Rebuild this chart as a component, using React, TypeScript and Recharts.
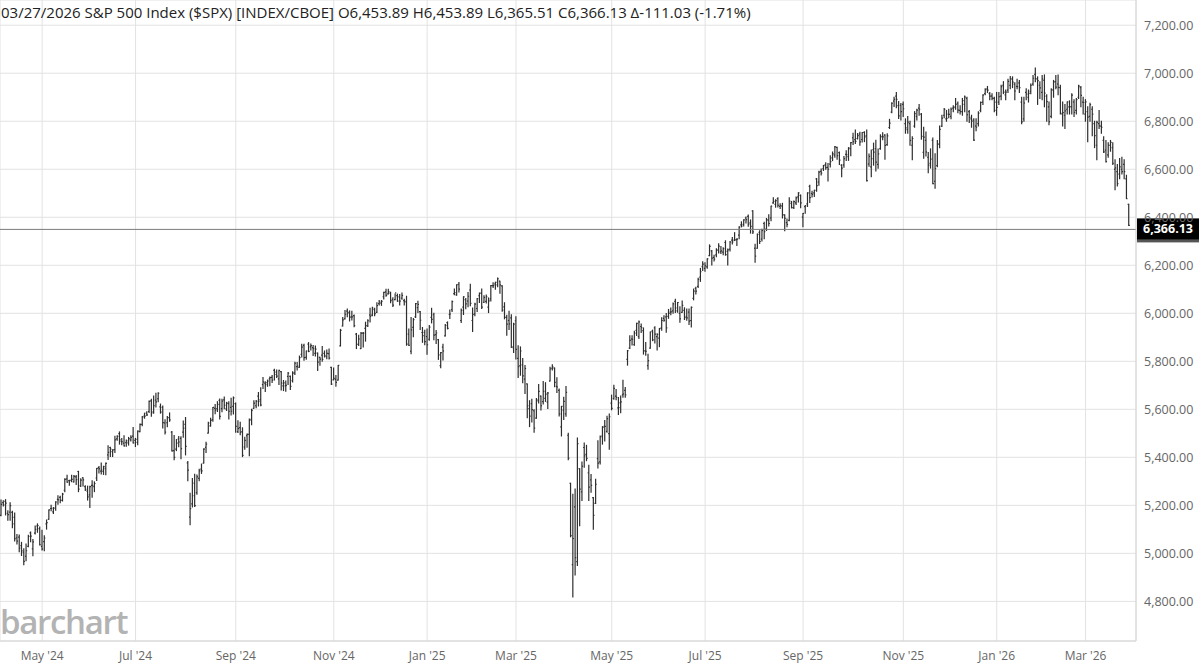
import React from 'react';
import { ComposedChart, Bar, XAxis, YAxis, CartesianGrid, ReferenceLine } from 'recharts';

type B = [number, number, number, number]; // open, high, low, close

const apr24: B[] = [[5158,5222,5157,5204],[5211,5219,5197,5202],[5217,5224,5160,5209],[5167,5178,5138,5161],[5172,5211,5138,5199],[5171,5175,5107,5123],[5150,5168,5052,5061],[5065,5079,5039,5051],[5068,5077,5007,5022],[5032,5046,4991,5011],[5005,5019,4953,4967],[4988,5039,4969,5011],[5029,5076,5028,5071],[5085,5089,5048,5072],[5019,5058,4990,5048],[5084,5114,5081,5100],[5114,5123,5088,5116],[5103,5110,5035,5036]];
const may24: B[] = [[5029,5096,5014,5018],[5049,5073,5011,5064],[5123,5139,5101,5128],[5142,5181,5142,5181],[5187,5200,5178,5187],[5173,5191,5166,5188],[5189,5215,5180,5214],[5225,5240,5205,5223],[5233,5238,5211,5221],[5221,5250,5218,5247],[5263,5311,5257,5308],[5310,5325,5296,5297],[5303,5305,5284,5303],[5305,5325,5298,5308],[5298,5324,5297,5321],[5319,5324,5287,5307],[5341,5342,5257,5268],[5281,5311,5279,5305],[5315,5315,5281,5306],[5278,5282,5262,5267],[5259,5280,5222,5235],[5244,5280,5191,5278]];
const jun24: B[] = [[5283,5302,5234,5283],[5278,5298,5257,5291],[5314,5354,5304,5354],[5357,5362,5335,5352],[5343,5376,5331,5347],[5341,5363,5329,5361],[5353,5376,5328,5375],[5410,5448,5391,5421],[5441,5442,5403,5434],[5424,5432,5403,5431],[5432,5488,5420,5473],[5477,5490,5471,5487],[5499,5506,5455,5473],[5466,5478,5452,5465],[5459,5490,5447,5448],[5461,5472,5446,5469],[5460,5483,5451,5478],[5473,5490,5468,5483],[5488,5524,5460,5460]];
const jul24: B[] = [[5471,5479,5445,5475],[5462,5510,5452,5509],[5507,5539,5507,5537],[5537,5570,5532,5567],[5572,5584,5563,5572],[5584,5590,5574,5577],[5591,5635,5587,5633],[5635,5642,5571,5585],[5590,5655,5584,5615],[5638,5667,5610,5631],[5644,5669,5632,5667],[5610,5622,5584,5588],[5608,5614,5522,5545],[5543,5557,5497,5505],[5544,5570,5527,5564],[5566,5585,5550,5556],[5505,5508,5426,5427],[5428,5491,5390,5400],[5434,5474,5428,5459],[5476,5487,5444,5464],[5479,5486,5394,5436],[5505,5551,5484,5522]];
const aug24: B[] = [[5537,5566,5410,5446],[5377,5383,5302,5347],[5151,5250,5119,5186],[5206,5312,5193,5240],[5293,5330,5195,5199],[5253,5326,5246,5319],[5312,5350,5302,5344],[5351,5372,5333,5344],[5376,5436,5376,5434],[5442,5463,5420,5455],[5501,5546,5501,5543],[5531,5563,5530,5554],[5557,5608,5550,5608],[5604,5620,5582,5597],[5603,5632,5591,5621],[5637,5643,5560,5571],[5603,5642,5590,5634],[5639,5651,5602,5617],[5602,5629,5595,5626],[5624,5632,5560,5592],[5608,5646,5576,5592],[5612,5651,5581,5648]];
const sep24: B[] = [[5624,5626,5504,5529],[5507,5552,5503,5520],[5524,5546,5494,5504],[5507,5523,5403,5408],[5443,5484,5434,5471],[5490,5497,5442,5496],[5496,5560,5407,5554],[5558,5600,5536,5596],[5604,5636,5604,5626],[5615,5637,5607,5633],[5655,5670,5614,5634],[5641,5690,5615,5618],[5703,5733,5687,5714],[5709,5715,5674,5703],[5711,5722,5696,5718],[5727,5735,5698,5732],[5733,5741,5712,5722],[5762,5767,5722,5745],[5755,5764,5733,5738],[5727,5763,5703,5762]];
const oct24: B[] = [[5757,5758,5681,5709],[5698,5720,5678,5710],[5698,5718,5675,5700],[5737,5753,5703,5751],[5737,5739,5683,5696],[5719,5757,5714,5751],[5752,5796,5745,5792],[5778,5795,5764,5780],[5775,5822,5775,5815],[5829,5871,5818,5859],[5866,5871,5804,5815],[5816,5843,5809,5843],[5872,5878,5840,5841],[5860,5872,5847,5865],[5857,5866,5824,5853],[5833,5864,5822,5851],[5834,5835,5762,5797],[5816,5817,5784,5809],[5826,5862,5800,5808],[5833,5843,5818,5823],[5819,5847,5811,5833],[5832,5851,5810,5813],[5775,5775,5703,5705]];
const nov24: B[] = [[5723,5772,5723,5729],[5725,5741,5696,5712],[5722,5783,5722,5783],[5864,5933,5864,5929],[5947,5983,5947,5973],[5977,6012,5976,5996],[6009,6018,5986,6001],[6004,6010,5968,5984],[5985,6009,5972,5985],[5990,5993,5944,5949],[5913,5916,5853,5871],[5871,5909,5866,5893],[5853,5920,5853,5917],[5917,5920,5860,5917],[5937,5963,5884,5949],[5948,5973,5945,5969],[5993,6021,5964,5987],[5992,6025,5990,6022],[6015,6021,5990,5999],[6004,6044,6003,6032]];
const dec24: B[] = [[6040,6053,6035,6047],[6042,6053,6033,6050],[6069,6088,6060,6087],[6089,6100,6071,6075],[6081,6100,6080,6090],[6084,6088,6044,6053],[6058,6065,6028,6034],[6057,6080,6056,6085],[6074,6080,6050,6051],[6068,6078,6035,6051],[6063,6085,6059,6074],[6053,6058,6035,6050],[6047,6071,5867,5872],[5913,5935,5866,5867],[5842,5982,5832,5931],[5941,5978,5902,5974],[5985,6041,5983,6040],[6024,6050,6003,6037],[6007,6007,5932,5971],[5920,5941,5879,5907],[5920,5929,5869,5882]];
const jan25: B[] = [[5903,5935,5829,5869],[5892,5949,5888,5942],[5983,6021,5960,5975],[5994,6000,5890,5909],[5911,5928,5874,5918],[5890,5891,5808,5827],[5782,5837,5773,5836],[5859,5871,5805,5843],[5906,5953,5905,5950],[5961,5964,5935,5937],[5995,6014,5978,5997],[6015,6051,6007,6049],[6082,6101,6077,6086],[6077,6119,6075,6119],[6121,6128,6089,6101],[5970,6018,5962,6012],[6026,6069,5995,6068],[6057,6062,6019,6039],[6051,6087,6027,6071],[6097,6121,6031,6041]];
const feb25: B[] = [[5970,6022,5924,5995],[5998,6042,5990,6038],[6020,6062,6007,6061],[6073,6084,6045,6084],[6083,6101,6020,6026],[6046,6073,6045,6066],[6050,6076,6043,6069],[6026,6064,6003,6052],[6060,6116,6051,6115],[6115,6127,6107,6115],[6122,6129,6100,6129],[6118,6147,6111,6144],[6134,6134,6084,6118],[6114,6115,6009,6013],[6027,6044,5977,5983],[5983,5992,5909,5955],[5970,6009,5932,5956],[5981,5994,5858,5861],[5857,5959,5837,5955]];
const mar25: B[] = [[5969,5986,5810,5850],[5812,5865,5733,5778],[5782,5860,5742,5843],[5785,5812,5711,5739],[5726,5783,5666,5770],[5706,5706,5565,5615],[5603,5636,5528,5572],[5624,5642,5547,5599],[5594,5598,5505,5522],[5563,5645,5563,5639],[5635,5703,5626,5675],[5655,5655,5597,5615],[5632,5716,5622,5675],[5646,5711,5633,5663],[5630,5670,5603,5668],[5718,5775,5718,5768],[5771,5786,5764,5777],[5772,5772,5694,5712],[5696,5732,5670,5693],[5679,5685,5572,5581],[5527,5612,5489,5612]];
const apr25: B[] = [[5597,5650,5558,5633],[5581,5695,5571,5671],[5492,5500,5390,5397],[5292,5292,5069,5074],[4953,5246,4818,5062],[5194,5268,4910,4982],[4966,5481,4950,5457],[5353,5353,5115,5268],[5256,5381,5220,5363],[5441,5460,5359,5406],[5412,5450,5386,5396],[5335,5367,5220,5276],[5306,5329,5255,5283],[5232,5233,5101,5158],[5208,5309,5208,5288],[5395,5469,5356,5376],[5381,5489,5372,5485],[5489,5528,5455,5525],[5529,5553,5468,5529],[5508,5571,5505,5561],[5499,5581,5434,5569]];
const may25: B[] = [[5626,5659,5598,5604],[5645,5700,5642,5687],[5655,5683,5640,5650],[5606,5649,5578,5607],[5627,5655,5586,5631],[5660,5721,5650,5664],[5679,5691,5650,5660],[5808,5845,5784,5844],[5855,5906,5853,5887],[5893,5906,5868,5892],[5869,5925,5867,5917],[5929,5959,5907,5958],[5903,5968,5895,5964],[5945,5955,5920,5940],[5928,5939,5830,5845],[5841,5878,5825,5842],[5782,5829,5767,5803],[5855,5922,5854,5922],[5926,5930,5886,5889],[5939,5944,5876,5913],[5903,5915,5847,5912]];
const jun25: B[] = [[5897,5937,5861,5936],[5939,5981,5929,5970],[5979,5990,5967,5971],[5985,5999,5921,5939],[5987,6016,5979,6000],[6005,6022,5994,6006],[6010,6043,6000,6039],[6050,6059,6003,6022],[6010,6045,6004,6045],[6000,6027,5963,5977],[6004,6051,6004,6033],[6012,6023,5974,5982],[5987,6018,5971,5981],[6005,6018,5953,5967],[5970,6026,5943,6025],[6062,6101,6056,6092],[6104,6109,6080,6092],[6112,6146,6107,6141],[6151,6187,6133,6173],[6194,6215,6178,6205]];
const jul25: B[] = [[6187,6211,6175,6198],[6193,6227,6188,6227],[6240,6285,6240,6279],[6260,6262,6201,6230],[6233,6242,6218,6226],[6243,6269,6236,6263],[6263,6290,6251,6280],[6256,6278,6249,6260],[6255,6273,6244,6269],[6295,6302,6242,6244],[6258,6268,6201,6264],[6267,6299,6260,6297],[6305,6316,6289,6297],[6305,6336,6303,6306],[6307,6310,6282,6309],[6326,6360,6311,6359],[6368,6381,6360,6363],[6370,6390,6364,6389],[6397,6401,6376,6390],[6404,6409,6363,6371],[6377,6389,6334,6362],[6427,6427,6332,6339]];
const aug25: B[] = [[6271,6288,6213,6238],[6271,6330,6271,6329],[6337,6344,6291,6299],[6309,6350,6301,6345],[6374,6379,6310,6340],[6351,6395,6345,6389],[6388,6410,6364,6374],[6397,6446,6385,6446],[6460,6481,6458,6466],[6454,6473,6442,6469],[6478,6481,6443,6450],[6445,6456,6437,6449],[6446,6458,6397,6411],[6409,6411,6344,6396],[6378,6393,6360,6370],[6387,6481,6385,6467],[6458,6466,6439,6440],[6440,6468,6437,6465],[6460,6484,6453,6481],[6485,6502,6464,6502],[6491,6493,6440,6460]];
const sep25: B[] = [[6401,6416,6360,6416],[6444,6449,6417,6448],[6456,6502,6445,6502],[6529,6533,6461,6482],[6499,6508,6484,6495],[6502,6513,6487,6512],[6560,6562,6508,6532],[6546,6592,6533,6588],[6591,6601,6576,6584],[6602,6616,6595,6615],[6619,6627,6600,6607],[6608,6624,6551,6600],[6621,6656,6609,6632],[6647,6672,6636,6664],[6659,6695,6650,6693],[6691,6692,6642,6657],[6669,6672,6620,6638],[6617,6619,6569,6605],[6618,6653,6608,6644],[6662,6677,6636,6661],[6652,6690,6637,6688]];
const oct25: B[] = [[6685,6711,6656,6711],[6731,6750,6703,6715],[6723,6764,6707,6716],[6728,6749,6726,6740],[6746,6754,6700,6714],[6724,6753,6713,6753],[6754,6756,6715,6735],[6740,6764,6551,6553],[6622,6664,6612,6654],[6610,6680,6569,6644],[6682,6709,6617,6671],[6686,6721,6593,6630],[6620,6684,6604,6664],[6686,6744,6683,6735],[6737,6752,6723,6735],[6742,6744,6642,6699],[6703,6748,6700,6739],[6774,6808,6770,6792],[6838,6877,6835,6875],[6884,6900,6861,6891],[6905,6920,6856,6891],[6865,6882,6811,6822],[6866,6874,6805,6840]];
const nov25: B[] = [[6870,6880,6820,6852],[6790,6810,6750,6772],[6765,6820,6750,6796],[6790,6800,6700,6720],[6700,6735,6640,6728],[6780,6840,6775,6832],[6820,6850,6805,6846],[6855,6870,6825,6850],[6830,6832,6725,6737],[6670,6775,6646,6734],[6720,6755,6655,6672],[6650,6670,6585,6617],[6625,6685,6605,6642],[6720,6730,6540,6540],[6550,6665,6521,6603],[6615,6720,6610,6705],[6705,6780,6690,6766],[6780,6825,6778,6813],[6825,6853,6815,6849]];
const dec25: B[] = [[6810,6845,6800,6812],[6830,6850,6815,6829],[6820,6855,6810,6850],[6855,6865,6840,6857],[6860,6895,6850,6870],[6875,6880,6835,6846],[6845,6865,6830,6840],[6840,6895,6825,6886],[6870,6905,6840,6901],[6895,6900,6800,6827],[6840,6845,6795,6816],[6810,6825,6775,6800],[6805,6810,6720,6721],[6780,6810,6760,6775],[6790,6840,6780,6834],[6845,6880,6840,6878],[6880,6910,6870,6909],[6915,6935,6910,6932],[6935,6945,6920,6930],[6915,6920,6890,6905],[6905,6915,6890,6896],[6895,6900,6840,6845]];
const jan26: B[] = [[6880,6920,6825,6858],[6880,6920,6870,6902],[6905,6950,6890,6944],[6950,6965,6915,6921],[6910,6930,6890,6921],[6930,6975,6920,6966],[6950,6986,6935,6977],[6975,6985,6940,6963],[6955,6960,6890,6926],[6945,6975,6935,6944],[6960,6970,6920,6940],[6880,6900,6790,6797],[6810,6900,6800,6876],[6920,6935,6890,6913],[6900,6930,6880,6916],[6925,6955,6915,6950],[6955,6990,6950,6979],[6995,7022,6965,6978],[6975,6985,6870,6969],[6950,6965,6895,6939]];
const feb26: B[] = [[6920,6990,6890,6976],[6970,6993,6860,6917],[6905,6910,6800,6882],[6860,6880,6785,6798],[6820,6935,6815,6932],[6930,6970,6900,6964],[6965,6990,6935,6942],[6955,6993,6910,6941],[6940,6950,6830,6833],[6830,6880,6780,6836],[6825,6870,6770,6843],[6850,6880,6830,6881],[6860,6885,6830,6861],[6860,6915,6830,6909],[6880,6890,6820,6837],[6845,6895,6830,6890],[6900,6950,6895,6946],[6940,6945,6860,6908],[6880,6900,6830,6878]];
const mar26: B[] = [[6830,6890,6800,6881],[6840,6860,6715,6817],[6820,6875,6800,6869],[6850,6860,6740,6830],[6790,6800,6690,6740],[6700,6800,6640,6795],[6790,6845,6770,6781],[6780,6800,6750,6775],[6720,6735,6670,6672],[6680,6720,6630,6632],[6660,6710,6650,6700],[6700,6720,6675,6712],[6690,6710,6620,6625],[6600,6640,6515,6606],[6590,6620,6530,6540],[6580,6645,6560,6610],[6600,6650,6580,6590],[6620,6640,6560,6590],[6560,6575,6478,6477.16],[6453.89,6453.89,6365.51,6366.13]];

const monthNames = ["Apr '24","May '24","Jun '24","Jul '24","Aug '24","Sep '24","Oct '24","Nov '24","Dec '24","Jan '25","Feb '25","Mar '25","Apr '25","May '25","Jun '25","Jul '25","Aug '25","Sep '25","Oct '25","Nov '25","Dec '25","Jan '26","Feb '26","Mar '26"];
const monthBars = [apr24, may24, jun24, jul24, aug24, sep24, oct24, nov24, dec24, jan25, feb25, mar25, apr25, may25, jun25, jul25, aug25, sep25, oct25, nov25, dec25, jan26, feb26, mar26];
const labeledMonths = ["May '24","Jul '24","Sep '24","Nov '24","Jan '25","Mar '25","May '25","Jul '25","Sep '25","Nov '25","Jan '26","Mar '26"];
const yTicks = [4800, 5000, 5200, 5400, 5600, 5800, 6000, 6200, 6400, 6600, 6800, 7000, 7200];
const lastPrice = 6366.13;
const lastPriceLabel = "6,366.13";
const titleText = "03/27/2026 S&P 500 Index ($SPX) [INDEX/CBOE] O6,453.89 H6,453.89 L6,365.51 C6,366.13 \u0394-111.03 (-1.71%)";

type Row = { i: number; o: number; h: number; l: number; c: number; range: [number, number] };
const data: Row[] = [];
const tickIdx: number[] = [];
const tickLabel: Record<number, string> = {};
monthBars.forEach((bars, m) => {
  bars.forEach((b, k) => {
    const i = data.length;
    if (k === 0 && labeledMonths.includes(monthNames[m])) {
      tickIdx.push(i);
      tickLabel[i] = monthNames[m];
    }
    data.push({ i, o: b[0], h: b[1], l: b[2], c: b[3], range: [b[2], b[1]] });
  });
});

const FONT = "'Open Sans', 'Noto Sans', sans-serif";
const LINE_SHIFT = 4;

const OhlcBar = (props: any) => {
  const { x, y, width, height, payload } = props;
  if (x == null || y == null || !payload) return null;
  const top = Math.min(y, y + height);
  const bot = Math.max(y, y + height);
  const cx = x + width / 2;
  const span = payload.h - payload.l;
  const toY = (v: number) => (span > 0 ? top + ((payload.h - v) / span) * (bot - top) : top);
  const t = 1.1;
  return (
    <g stroke="#2e2e2e" strokeWidth={1.2}>
      <line x1={cx} x2={cx} y1={top - 0.5} y2={bot + 0.5} />
      <line x1={cx - t} x2={cx} y1={toY(payload.o)} y2={toY(payload.o)} />
      <line x1={cx} x2={cx + t} y1={toY(payload.c)} y2={toY(payload.c)} />
    </g>
  );
};

const LastLine = (props: any) => {
  const { x1, x2, y1 } = props;
  if (x1 == null || y1 == null) return null;
  const y = y1 + LINE_SHIFT;
  return <line x1={x1} x2={x2} y1={y} y2={y} stroke="#7a7a7a" strokeWidth={1} />;
};

const LastLabel = (props: any) => {
  const vb = props.viewBox || {};
  const x = (vb.x ?? 0) + (vb.width ?? 0) + 1;
  const y = (vb.y ?? 0) + LINE_SHIFT;
  return (
    <g>
      <rect x={x} y={y - 10} width={62} height={23} fill="#555" />
      <rect x={x} y={y - 11} width={62} height={21} fill="#000" />
      <text x={x + 31} y={y + 0.5} textAnchor="middle" dominantBaseline="middle" fill="#fff" fontSize={12.5} fontWeight={700} fontFamily={FONT}>
        {lastPriceLabel}
      </text>
    </g>
  );
};

const fmtY = (v: number) => v.toLocaleString('en-US', { minimumFractionDigits: 2, maximumFractionDigits: 2 });

export default function App() {
  return (
    <div style={{ position: 'absolute', left: 0, top: 0, width: 1200, height: 667, background: '#fff', fontFamily: FONT, overflow: 'hidden' }}>
      <ComposedChart width={1200} height={667} data={data} margin={{ top: 0, right: 0, bottom: 0, left: 0 }} barCategoryGap={0} barGap={0}>
        <CartesianGrid stroke="#e2e2e2" />
        <XAxis
          dataKey="i"
          type="category"
          ticks={tickIdx}
          interval={0}
          tickFormatter={(v: any) => tickLabel[v] ?? ''}
          tickLine={false}
          axisLine={{ stroke: '#d4d4d4' }}
          tickSize={0}
          tickMargin={10}
          height={26}
          tick={{ fill: '#666', fontSize: 12, fontFamily: FONT }}
          padding={{ left: 0, right: 6 }}
        />
        <YAxis
          orientation="right"
          type="number"
          domain={[4635, 7305]}
          ticks={yTicks}
          allowDataOverflow
          width={64}
          tickLine={false}
          axisLine={{ stroke: '#d4d4d4' }}
          tickSize={0}
          tickMargin={8}
          tick={{ fill: '#666', fontSize: 12.5, fontFamily: FONT }}
          tickFormatter={fmtY}
        />
        <Bar dataKey="range" shape={OhlcBar} isAnimationActive={false} />
        <ReferenceLine y={lastPrice} shape={(p: any) => <LastLine {...p} />} label={(p: any) => <LastLabel {...p} />} ifOverflow="visible" />
      </ComposedChart>
      <div style={{ position: 'absolute', left: 1, top: 1, fontSize: 15, color: '#222', whiteSpace: 'nowrap', lineHeight: '22px' }}>
        {titleText}
      </div>
      <div style={{ position: 'absolute', left: 0, top: 600, fontSize: 33, fontWeight: 600, color: '#b3b3b3', letterSpacing: -1.3, lineHeight: '44px' }}>
        barchart
      </div>
    </div>
  );
}
